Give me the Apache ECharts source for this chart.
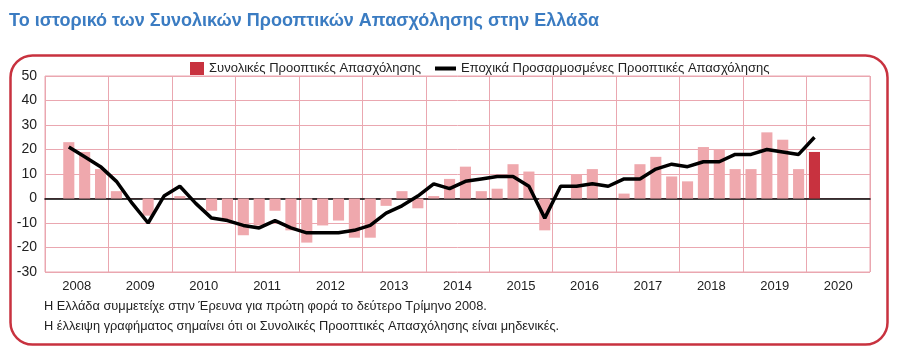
<!DOCTYPE html>
<html>
<head>
<meta charset="utf-8">
<title>Συνολικές Προοπτικές Απασχόλησης</title>
<script src="https://cdn.jsdelivr.net/npm/echarts@6/dist/echarts.min.js"></script>
<style>
  html, body { margin: 0; padding: 0; background: #fff; }
  #chart { width: 900px; height: 353px; }
</style>
</head>
<body>
<div id="chart"></div>
<script>
// τρίμηνα 2008 Q1 - 2020 Q4
var years = ['2008', '2009', '2010', '2011', '2012', '2013', '2014', '2015', '2016', '2017', '2018', '2019', '2020'];
var quarters = [];
years.forEach(function (y) {
  for (var q = 1; q <= 4; q++) quarters.push(y + ' Q' + q);
});

// Συνολικές Προοπτικές (ράβδοι)
var totalOutlook = [
  null, 23, 19, 12,
  3, null, -7, null,
  1, null, -5, -9,
  -15, -11, -5, -13,
  -18, -11, -9, -16,
  -16, -3, 3, -4,
  1, 8, 13, 3,
  4, 14, 11, -13,
  null, 10, 12, null,
  2, 14, 17, 9,
  7, 21, 20, 12,
  12, 27, 24, 12,
  19, null, null, null
];

// Εποχικά Προσαρμοσμένες (γραμμή)
var adjustedOutlook = [
  null, 21, 17, 13,
  7, -2, -10, 1,
  5, -2, -8, -9,
  -11, -12, -9, -12,
  -14, -14, -14, -13,
  -11, -6, -3, 1,
  6, 4, 7, 8,
  9, 9, 5, -8,
  5, 5, 6, 5,
  8, 8, 12, 14,
  13, 15, 15, 18,
  18, 20, 19, 18,
  25, null, null, null
];

var barName = 'Συνολικές Προοπτικές Απασχόλησης';
var lineName = 'Εποχικά Προσαρμοσμένες Προοπτικές Απασχόλησης';
var currentIndex = 48; // 2020 Q1
var darkRed = '#c8323f';
var lightRed = '#efa8ad';
var gridPink = '#eaa7b0';
var font = 'Liberation Sans, Arial, sans-serif';

var barData = totalOutlook.map(function (v, i) {
  if (v === null) return null;
  return { value: v, itemStyle: { color: i === currentIndex ? darkRed : lightRed } };
});

var chart = echarts.init(document.getElementById('chart'));
chart.setOption({
  animation: false,
  textStyle: { fontFamily: font },
  title: {
    text: 'Το ιστορικό των Συνολικών Προοπτικών Απασχόλησης στην Ελλάδα',
    left: 4, top: 7,
    textStyle: { color: '#3b7cc2', fontSize: 18, fontWeight: 'bold' }
  },
  legend: [
    {
      top: 57, left: 185,
      itemWidth: 14, itemHeight: 13,
      textStyle: { color: '#222', fontSize: 13 },
      data: [{ name: barName, icon: 'rect' }]
    },
    {
      top: 57, left: 430,
      itemWidth: 21, itemHeight: 4, itemGap: 8,
      textStyle: { color: '#222', fontSize: 13 },
      data: [{ name: lineName, icon: 'rect' }]
    }
  ],
  graphic: [
    {
      type: 'rect', left: 8, top: 53, silent: true, z: -1,
      shape: { width: 877, height: 289, r: 22 },
      style: { fill: 'none', stroke: darkRed, lineWidth: 2.5 }
    },
    {
      type: 'text', left: 44, top: 300,
      style: { text: 'Η Ελλάδα συμμετείχε στην Έρευνα για πρώτη φορά το δεύτερο Τρίμηνο 2008.', fill: '#222', fontSize: 12.8, fontFamily: font }
    },
    {
      type: 'text', left: 44, top: 320,
      style: { text: 'Η έλλειψη γραφήματος σημαίνει ότι οι Συνολικές Προοπτικές Απασχόλησης είναι μηδενικές.', fill: '#222', fontSize: 12.8, fontFamily: font }
    }
  ],
  grid: { left: 45, right: 30, top: 76, bottom: 81, show: true, borderColor: gridPink, borderWidth: 1 },
  xAxis: [
    {
      type: 'category', data: quarters, boundaryGap: true,
      axisLine: { onZero: true, lineStyle: { color: '#000', width: 1.5 } },
      axisTick: { show: false }, axisLabel: { show: false }, splitLine: { show: false }
    },
    {
      type: 'category', data: years, position: 'bottom', boundaryGap: true,
      axisLine: { show: false, onZero: false },
      axisTick: { show: false },
      axisLabel: { color: '#222', fontSize: 13, margin: 8 },
      splitLine: { show: true, lineStyle: { color: gridPink, width: 1 } }
    }
  ],
  yAxis: {
    type: 'value', min: -30, max: 50, interval: 10,
    axisLine: { show: false }, axisTick: { show: false },
    axisLabel: { color: '#222', fontSize: 14, margin: 8 },
    splitLine: { lineStyle: { color: gridPink, width: 1 } }
  },
  series: [
    {
      name: barName, type: 'bar',
      xAxisIndex: 0, barWidth: '70%', color: darkRed,
      data: barData
    },
    {
      name: lineName, type: 'line',
      xAxisIndex: 0, symbol: 'none', color: '#000', z: 5,
      lineStyle: { color: '#000', width: 3.5 },
      data: adjustedOutlook
    }
  ]
});
</script>
</body>
</html>
